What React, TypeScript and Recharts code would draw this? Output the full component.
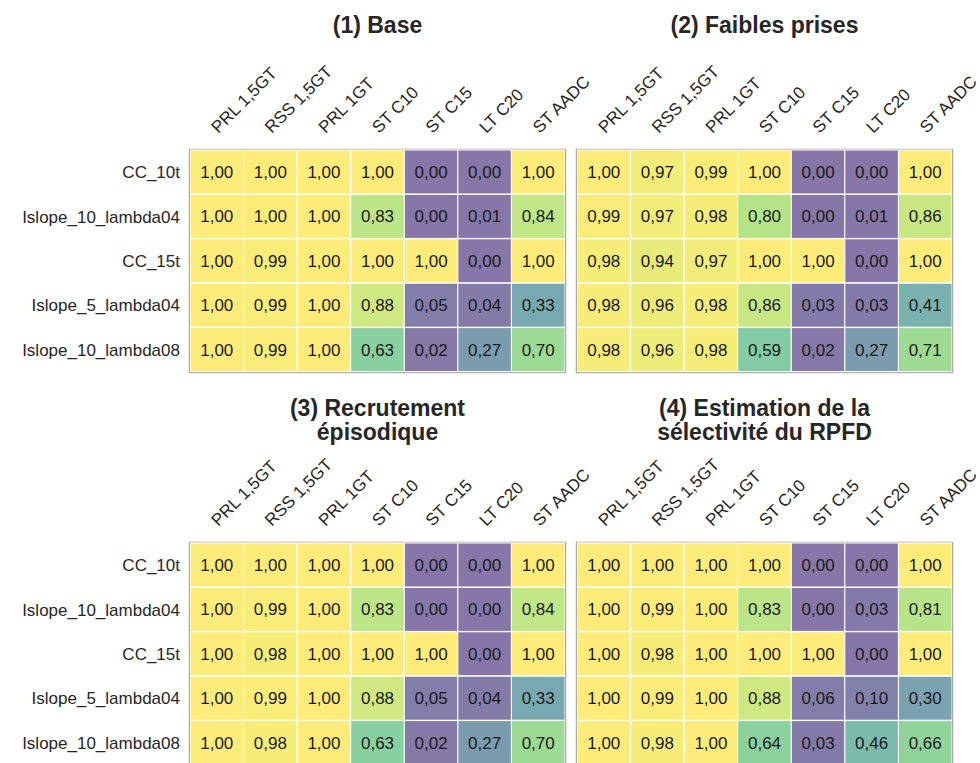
import { BarChart, Bar, XAxis, YAxis, Cell, LabelList, ReferenceArea } from "recharts";

const rowLabels = ["CC_10t", "Islope_10_lambda04", "CC_15t", "Islope_5_lambda04", "Islope_10_lambda08"];
const colLabels = ["PRL 1,5GT", "RSS 1,5GT", "PRL 1GT", "ST C10", "ST C15", "LT C20", "ST AADC"];

const baseValues = [
  [1.0, 1.0, 1.0, 1.0, 0.0, 0.0, 1.0],
  [1.0, 1.0, 1.0, 0.83, 0.0, 0.01, 0.84],
  [1.0, 0.99, 1.0, 1.0, 1.0, 0.0, 1.0],
  [1.0, 0.99, 1.0, 0.88, 0.05, 0.04, 0.33],
  [1.0, 0.99, 1.0, 0.63, 0.02, 0.27, 0.7],
];
const faiblesValues = [
  [1.0, 0.97, 0.99, 1.0, 0.0, 0.0, 1.0],
  [0.99, 0.97, 0.98, 0.8, 0.0, 0.01, 0.86],
  [0.98, 0.94, 0.97, 1.0, 1.0, 0.0, 1.0],
  [0.98, 0.96, 0.98, 0.86, 0.03, 0.03, 0.41],
  [0.98, 0.96, 0.98, 0.59, 0.02, 0.27, 0.71],
];
const recrutementValues = [
  [1.0, 1.0, 1.0, 1.0, 0.0, 0.0, 1.0],
  [1.0, 0.99, 1.0, 0.83, 0.0, 0.0, 0.84],
  [1.0, 0.98, 1.0, 1.0, 1.0, 0.0, 1.0],
  [1.0, 0.99, 1.0, 0.88, 0.05, 0.04, 0.33],
  [1.0, 0.98, 1.0, 0.63, 0.02, 0.27, 0.7],
];
const estimationValues = [
  [1.0, 1.0, 1.0, 1.0, 0.0, 0.0, 1.0],
  [1.0, 0.99, 1.0, 0.83, 0.0, 0.03, 0.81],
  [1.0, 0.98, 1.0, 1.0, 1.0, 0.0, 1.0],
  [1.0, 0.99, 1.0, 0.88, 0.06, 0.1, 0.3],
  [1.0, 0.98, 1.0, 0.64, 0.03, 0.46, 0.66],
];

// faded viridis, sampled by eye
const colorStops: [number, string][] = [
  [0.0, "#8677a8"],
  [0.1, "#8082aa"],
  [0.27, "#7b9caf"],
  [0.33, "#78a8b0"],
  [0.41, "#79b2ae"],
  [0.46, "#7bbbab"],
  [0.59, "#83cba4"],
  [0.63, "#89d09f"],
  [0.7, "#9cd993"],
  [0.8, "#b4e388"],
  [0.83, "#bce587"],
  [0.88, "#d0e880"],
  [0.94, "#e6eb79"],
  [0.97, "#f2ed78"],
  [1.0, "#feec7a"],
];

function hexToRgb(h: string) {
  return [1, 3, 5].map((i) => parseInt(h.slice(i, i + 2), 16));
}

function colorFor(v: number): string {
  for (let i = 1; i < colorStops.length; i++) {
    const [v1, c1] = colorStops[i];
    if (v <= v1) {
      const [v0, c0] = colorStops[i - 1];
      const t = (v - v0) / (v1 - v0);
      const a = hexToRgb(c0);
      const b = hexToRgb(c1);
      return `rgb(${a.map((x, k) => Math.round(x + (b[k] - x) * t)).join(",")})`;
    }
  }
  return colorStops[colorStops.length - 1][1];
}

const FONT = "'Liberation Sans', Arial, sans-serif";
const TEXT = "#262626";

const ColTick = (props: any) => {
  const { x, y, payload } = props;
  const tx = x + 1.5;
  const ty = y - 16;
  return (
    <text x={tx} y={ty} transform={`rotate(-45, ${tx}, ${ty})`} fontSize={17} fill={TEXT} textAnchor="start" fontFamily={FONT}>
      {colLabels[Math.floor(payload.value)]}
    </text>
  );
};

interface PanelProps {
  values: number[][];
  showRows: boolean;
  left: number;
  top: number;
  width: number;
  marginLeft: number;
  marginRight: number;
}

function Panel({ values, showRows, left, top, width, marginLeft, marginRight }: PanelProps) {
  const data = rowLabels.map((name, i) => {
    const row: Record<string, any> = { name };
    values[i].forEach((v, j) => {
      row[`v${j}`] = v;
      row[`s${j}`] = 1;
    });
    return row;
  });

  return (
    <div style={{ position: "absolute", left, top }}>
      <BarChart
        width={width}
        height={380}
        data={data}
        layout="vertical"
        barCategoryGap={0}
        margin={{ top: 110, right: marginRight, bottom: 8, left: marginLeft }}
      >
        <XAxis
          type="number"
          orientation="top"
          domain={[0, 7]}
          ticks={[0.5, 1.5, 2.5, 3.5, 4.5, 5.5, 6.5]}
          height={40}
          axisLine={false}
          tickLine={false}
          tickSize={0}
          tickMargin={0}
          tick={<ColTick />}
          interval={0}
          allowDataOverflow
        />
        <YAxis
          type="category"
          dataKey="name"
          hide={!showRows}
          width={showRows ? 190 : 0}
          axisLine={false}
          tickLine={false}
          tickSize={0}
          tickMargin={10}
          tick={{ fontSize: 17, fill: TEXT, fontFamily: FONT }}
        />
        {colLabels.map((_, j) => (
          <Bar key={j} dataKey={`s${j}`} stackId="a" stroke="#ffffff" strokeWidth={1} isAnimationActive={false}>
            {data.map((row, i) => (
              <Cell key={i} fill={colorFor(row[`v${j}`])} />
            ))}
            <LabelList
              dataKey={`v${j}`}
              position="center"
              formatter={(v: any) => Number(v).toFixed(2).replace(".", ",")}
              fill="#1a1a1a"
              fontSize={17}
              fontFamily={FONT}
            />
          </Bar>
        ))}
        <ReferenceArea x1={0} x2={7} fill="none" stroke="#aaaaaa" strokeWidth={2.5} />
      </BarChart>
    </div>
  );
}

function Title({ lines, cx, top }: { lines: string[]; cx: number; top: number }) {
  return (
    <div
      style={{
        position: "absolute",
        left: cx - 200,
        top,
        width: 400,
        textAlign: "center",
        fontFamily: FONT,
        fontWeight: "bold",
        fontSize: 23,
        lineHeight: "24px",
        color: TEXT,
      }}
    >
      {lines.map((l, i) => (
        <div key={i}>{l}</div>
      ))}
    </div>
  );
}

export default function App() {
  return (
    <div style={{ position: "absolute", left: 0, top: 0, width: 980, height: 763, overflow: "hidden", background: "#fff" }}>
      <Panel values={baseValues} showRows left={0} top={0} width={605} marginLeft={0} marginRight={40} />
      <Panel values={faiblesValues} showRows={false} left={567} top={0} width={413} marginLeft={10} marginRight={28} />
      <Panel values={recrutementValues} showRows left={0} top={393} width={605} marginLeft={0} marginRight={40} />
      <Panel values={estimationValues} showRows={false} left={567} top={393} width={413} marginLeft={10} marginRight={28} />
      <Title lines={["(1) Base"]} cx={377.5} top={13} />
      <Title lines={["(2) Faibles prises"]} cx={764.5} top={13} />
      <Title lines={["(3) Recrutement", "épisodique"]} cx={377.5} top={396} />
      <Title lines={["(4) Estimation de la", "sélectivité du RPFD"]} cx={764.5} top={396} />
    </div>
  );
}
